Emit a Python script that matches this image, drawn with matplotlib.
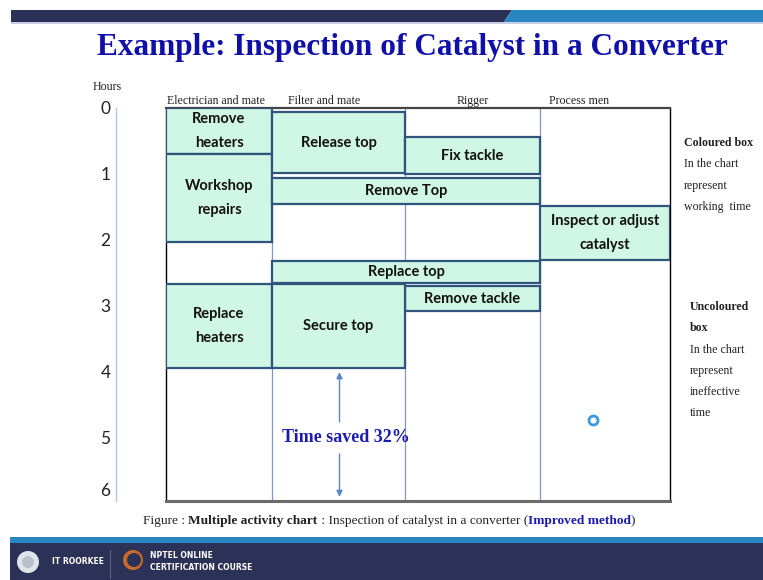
import numpy as np
import matplotlib.pyplot as plt
from matplotlib.patches import Rectangle, Polygon, Circle

# workers (columns) and the activities done in the improved method
workers = ["Electrician and mate", "Filter and mate", "Rigger", "Process men"]
activities = ["Remove\nheaters", "Workshop\nrepairs", "Release top", "Fix tackle",
              "Remove Top", "Inspect or adjust\ncatalyst", "Replace top",
              "Remove tackle", "Replace\nheaters", "Secure top"]
act_col = [0, 0, 1, 2, 1, 3, 1, 2, 0, 1]          # first worker column
act_ncols = [1, 1, 1, 1, 2, 1, 2, 1, 1, 1]        # how many columns it spans
act_start = [0.0, 0.70, 0.06, 0.44, 1.06, 1.48, 2.32, 2.70, 2.66, 2.66]   # hours
act_end = [0.70, 2.03, 0.99, 1.00, 1.45, 2.30, 2.65, 3.08, 3.94, 3.94]
hours = [0, 1, 2, 3, 4, 5, 6]
time_saved = "Time saved 32%"
cursor_hour = [4.72]

W, H = 763, 580
fig = plt.figure(figsize=(W / 100, H / 100), dpi=100)

# background axes in pixel units for the slide decorations
bg = fig.add_axes([0, 0, 1, 1])
bg.set_xlim(0, W)
bg.set_ylim(H, 0)
bg.axis("off")

navy = "#2b3157"
lblue = "#2886c2"
bg.add_patch(Polygon([(11, 10), (512, 10), (504, 22), (11, 22)], color=navy, lw=0))
bg.add_patch(Polygon([(512, 10), (W, 10), (W, 22), (504, 22)], color=lblue, lw=0))
bg.add_patch(Rectangle((11, 22), W, 2, color="#c9cde2", lw=0))

bg.text(412, 47, "Example: Inspection of Catalyst in a Converter", ha="center", va="center",
        fontsize=22.5, fontweight="bold", family="Liberation Serif", color="#1010a8")

# footer
bg.add_patch(Rectangle((10, 537), W, 6, color=lblue, lw=0))
bg.add_patch(Rectangle((10, 543), W, 40, color=navy, lw=0))
bg.add_patch(Circle((28, 562), 11, color="#dfe3ea", lw=0))
bg.add_patch(Circle((28, 562), 6, color="#b9c0cc", lw=0))
bg.text(52, 562, "IT ROORKEE", color="white", fontsize=5.5, fontweight="bold", va="center")
bg.plot([110, 110], [550, 578], color="#5a6080", lw=0.8)
bg.add_patch(Circle((133, 560), 10, color="#c86a28", lw=0))
bg.add_patch(Circle((134, 560), 7, color=navy, lw=0))
bg.text(150, 556, "NPTEL ONLINE", color="white", fontsize=5.5, fontweight="bold", va="center")
bg.text(150, 567, "CERTIFICATION COURSE", color="white", fontsize=5.5, fontweight="bold", va="center")

# chart frame in pixels
fx0, fx1, fy0, fy1 = 166, 670, 108, 501
col_edges = [0, 106, 239, 374, 504]
px_per_hour = 66.0

ax = fig.add_axes([fx0 / W, 1 - fy1 / H, (fx1 - fx0) / W, (fy1 - fy0) / H])
ax.set_xlim(0, col_edges[-1])
ymax = (fy1 - fy0) / px_per_hour
ax.set_ylim(ymax, 0)
ax.set_xticks([])
ax.set_yticks([])
for s in ["left", "right"]:
    ax.spines[s].set_color("black")
    ax.spines[s].set_linewidth(1.0)
ax.spines["top"].set_color("#444444")
ax.spines["top"].set_linewidth(1.6)
ax.spines["bottom"].set_color("#6b6b6b")
ax.spines["bottom"].set_linewidth(2.2)

for e in col_edges[1:-1]:
    ax.axvline(e, color="#8196c4", lw=0.9, zorder=1)

for i, w in enumerate(workers):
    cx = (col_edges[i] + col_edges[i + 1]) / 2
    if i == 0:
        cx = col_edges[0] + 50
    if i == 1:
        cx = col_edges[1] + 52
    if i == 3:
        cx = col_edges[3] + 39
    ax.text(cx, -0.02, w, ha="center", va="bottom", fontsize=8.6,
            family="Liberation Serif", color="#222222", clip_on=False)

lefts = [col_edges[c] for c in act_col]
widths = [col_edges[c + n] - col_edges[c] for c, n in zip(act_col, act_ncols)]
heights = [e - s for s, e in zip(act_start, act_end)]
ax.bar(lefts, heights, width=widths, bottom=act_start, align="edge",
       color="#d0f6e5", edgecolor="#2f557c", linewidth=1.6, zorder=3)

for name, l, w, s, e in zip(activities, lefts, widths, act_start, act_end):
    ax.text(l + w / 2, (s + e) / 2, name, ha="center", va="center", fontsize=10.5,
            fontweight="bold", family="Lato", color="#111111", linespacing=1.95, zorder=4)

# time saved arrows in the filter column
xa = (col_edges[1] + col_edges[2]) / 2 + 1
ax.text(xa + 6, 5.0, time_saved, ha="center", va="center", fontsize=13,
        fontweight="bold", family="Liberation Serif", color="#1a1ab0", zorder=4)
ax.annotate("", xy=(xa, act_end[-1] + 0.02), xytext=(xa, 4.8),
            arrowprops=dict(arrowstyle="-|>", color="#5b86c5", lw=1.0, mutation_scale=9))
ax.annotate("", xy=(xa, ymax - 0.02), xytext=(xa, 5.2),
            arrowprops=dict(arrowstyle="-|>", color="#5b86c5", lw=1.0, mutation_scale=9))

ax.plot([col_edges[3] + 53], cursor_hour, marker="o", ms=6.5, mfc="white",
        mec="#3a9ae0", mew=2.0, zorder=5)

# hours axis to the left of the chart
hx = 116
hax = fig.add_axes([hx / W, 1 - fy1 / H, 0.001, (fy1 - fy0) / H])
hax.set_ylim(ymax, 0)
hax.set_xticks([])
for s in ["top", "bottom", "right"]:
    hax.spines[s].set_visible(False)
hax.spines["left"].set_color("#b7c6e2")
hax.spines["left"].set_linewidth(1.0)
tick_pos = [min(h, ymax - 0.18) for h in hours]
hax.set_yticks(tick_pos)
hax.set_yticklabels([str(h) for h in hours], fontsize=12.5, family="Lato", color="#222222")
hax.tick_params(axis="y", length=0, pad=4)
bg.text(107, 87, "Hours", ha="center", va="center", fontsize=8.6,
        family="Liberation Serif", color="#222222")

# side notes
note_kw = dict(fontsize=8.6, family="Liberation Serif", color="#222222", va="center")
bg.text(684, 143, "Coloured box", fontweight="bold", **note_kw)
for k, t in enumerate(["In the chart", "represent", "working  time"]):
    bg.text(684, 164 + 21.5 * k, t, **note_kw)
bg.text(690, 307, "Uncoloured", fontweight="bold", **note_kw)
bg.text(690, 328, "box", fontweight="bold", **note_kw)
for k, t in enumerate(["In the chart", "represent", "ineffective", "time"]):
    bg.text(690, 350 + 21 * k, t, **note_kw)

# caption, pieces chained one after another
parts = [("Figure : ", "normal", "#222222"), ("Multiple activity chart", "bold", "#222222"),
         (" : Inspection of catalyst in a converter (", "normal", "#222222"),
         ("Improved method", "bold", "#1a1ab0"), (")", "normal", "#222222")]
prev = bg.text(143, 521, parts[0][0], fontsize=9.6, family="Liberation Serif",
               fontweight=parts[0][1], color=parts[0][2], va="center")
for txt, wt, col in parts[1:]:
    prev = bg.annotate(txt, xy=(1, 0.5), xycoords=prev, va="center", ha="left",
                       fontsize=9.6, family="Liberation Serif", fontweight=wt, color=col)

fig.savefig("out.png", dpi=100)
